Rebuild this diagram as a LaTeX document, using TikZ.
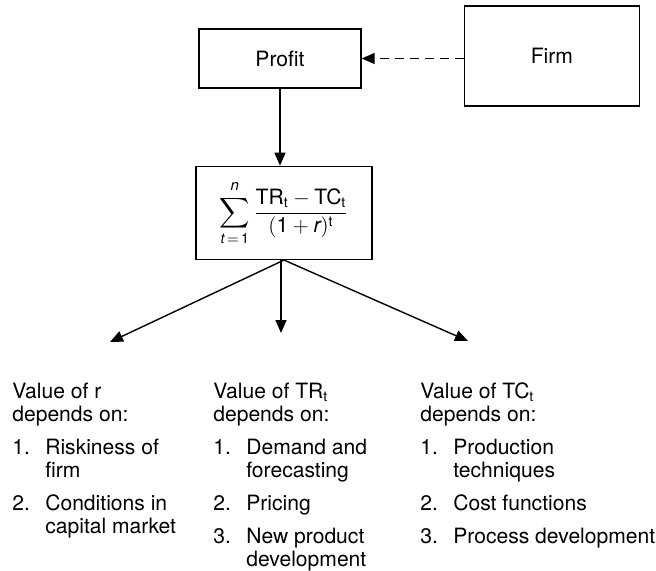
\documentclass[tikz,border=0pt]{standalone}
\usepackage{amsmath}
\usepackage{fontspec}
\setmainfont{TeX Gyre Heros}
\usetikzlibrary{arrows.meta, positioning}

\begin{document}
\begin{tikzpicture}[x=0.02cm, y=-0.02cm,
        font=\fontsize{12}{13.1}\selectfont,
        box/.style={draw, line width=0.8pt, minimum width=3.24cm, minimum height=1.18cm, align=center},
        col/.style={inner sep=0pt, anchor=north west, align=left},
        arr/.style={-{Triangle[length=0.26cm, width=0.22cm]}, line width=0.8pt},
        dasharr/.style={arr, dash pattern=on 0.18cm off 0.12cm}
    ]
        \useasboundingbox (0,0) rectangle (656,571);
        \node[box] (profit) at (280,58.5) {Profit};
        \node[box, minimum width=3.5cm, minimum height=2cm, right=2.04cm of profit, yshift=0.05cm] (firm) {Firm};
        \node[box, minimum width=3.52cm, minimum height=1.86cm, below=1.54cm of profit, xshift=0.08cm] (npv)
            {$\displaystyle\sum_{\text{\itshape t}\,=\,\text{1}}^{\raisebox{1pt}{\fontsize{8.5}{9}\selectfont\itshape n}}
              \frac{\text{TR}_{\text{t}} - \text{TC}_{\text{t}}}{(\text{1} + \text{\itshape r})^{\text{t}}}$};
        \draw[dasharr] (firm.west |- profit) -- (profit.east);
        \draw[arr] (profit.south) -- (profit.south |- npv.north);
        % the three drivers
        \coordinate (rend) at (110,342);
        \coordinate (trend) at (281,333);
        \coordinate (tcend) at (468,341);
        \draw[arr] (npv.south) -- (rend);
        \draw[arr] (npv.south -| trend) -- (trend);
        \draw[arr] (npv.south) -- (tcend);
        \node[col] (rval) at (12,382) {\begin{tabular}{@{}p{0.66cm}@{}l@{}}
            \multicolumn{2}{@{}l@{}}{Value of r}\\
            \multicolumn{2}{@{}l@{}}{depends on:}\\[0.2cm]
            1. & Riskiness of\\
               & firm\\[0.2cm]
            2. & Conditions in\\
               & capital market
        \end{tabular}};
        \node[col] (trval) at (213,382) {\begin{tabular}{@{}p{0.66cm}@{}l@{}}
            \multicolumn{2}{@{}l@{}}{Value of TR$_{\text{t}}$}\\
            \multicolumn{2}{@{}l@{}}{depends on:}\\[0.2cm]
            1. & Demand and\\
               & forecasting\\[0.2cm]
            2. & Pricing\\[0.2cm]
            3. & New product\\
               & development
        \end{tabular}};
        \node[col] (tcval) at (420,382) {\begin{tabular}{@{}p{0.66cm}@{}l@{}}
            \multicolumn{2}{@{}l@{}}{Value of TC$_{\text{t}}$}\\
            \multicolumn{2}{@{}l@{}}{depends on:}\\[0.2cm]
            1. & Production\\
               & techniques\\[0.2cm]
            2. & Cost functions\\[0.2cm]
            3. & Process development
        \end{tabular}};
    \end{tikzpicture}
\end{document}
